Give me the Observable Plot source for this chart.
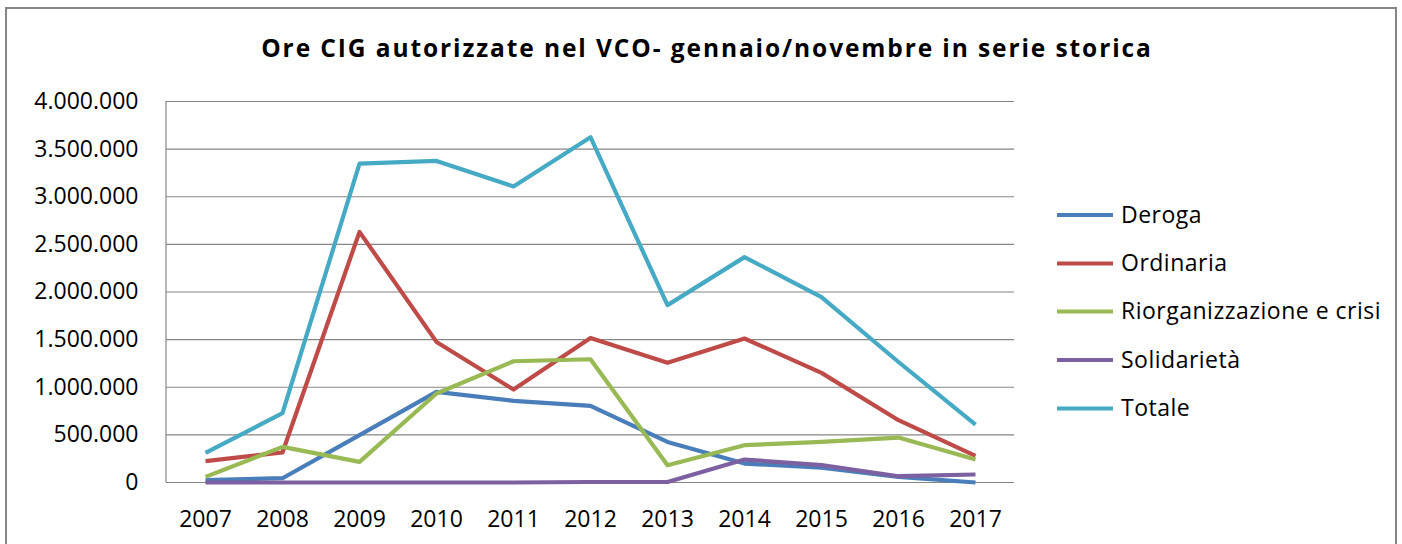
<!DOCTYPE html>
<html>
<head>
<meta charset="utf-8">
<script src="https://cdn.jsdelivr.net/npm/d3@7"></script>
<script src="https://cdn.jsdelivr.net/npm/@observablehq/plot@0.6"></script>
<style>
  html, body { margin: 0; padding: 0; background: #fff; overflow: hidden; }
  #wrap { position: relative; width: 1402px; height: 544px; overflow: hidden; font-family: "Open Sans", sans-serif; }
  #wrap svg.plotsvg { position: absolute; left: 0; top: 0; background: transparent !important; }
  #border { position: absolute; left: 5px; top: 7px; width: 1388px; height: 600px; border: 2px solid #868686; pointer-events: none; }
  #overlay { position: absolute; left: 0; top: 0; pointer-events: none; }
</style>
</head>
<body>
<div id="wrap"><div id="border"></div></div>
<script>
// ---- data ----
const years = [2007, 2008, 2009, 2010, 2011, 2012, 2013, 2014, 2015, 2016, 2017];
const deroga = [25000, 45000, 497000, 951000, 857000, 804000, 426000, 199000, 157000, 59000, 0];
const ordinaria = [224000, 315000, 2631000, 1476000, 976000, 1518000, 1256000, 1512000, 1151000, 654000, 280000];
const riorganizzazione = [59000, 374000, 216000, 934000, 1273000, 1294000, 182000, 392000, 426000, 472000, 241000];
const solidarieta = [0, 0, 0, 0, 0, 5000, 5000, 241000, 182000, 66000, 84000];
const totale = [310000, 728000, 3347000, 3376000, 3108000, 3625000, 1862000, 2366000, 1947000, 1265000, 607000];
const seriesNames = ["Deroga", "Ordinaria", "Riorganizzazione e crisi", "Solidarietà", "Totale"];
const seriesColors = ["#4A7EBB", "#BE4B48", "#98B954", "#7D60A0", "#46AAC5"];
const yTicks = [0, 500000, 1000000, 1500000, 2000000, 2500000, 3000000, 3500000, 4000000];
const title = "Ore CIG autorizzate nel VCO- gennaio/novembre in serie storica";

const seriesValues = [deroga, ordinaria, riorganizzazione, solidarieta, totale];
const rows = [];
seriesNames.forEach((name, i) => {
  years.forEach((yr, j) => rows.push({series: name, year: yr, value: seriesValues[i][j]}));
});

const itLocale = d3.formatLocale({decimal: ",", thousands: ".", grouping: [3], currency: ["€", ""]});
const fmt = itLocale.format(",d");

const W = 1402, H = 544;
const chart = Plot.plot({
  width: W,
  height: H,
  marginLeft: 166,
  marginRight: 388,
  marginTop: 101,
  marginBottom: 62,
  style: {fontFamily: "'Open Sans', sans-serif", fontSize: "23px", color: "#000", background: "transparent"},
  x: {type: "point", domain: years, padding: 0.5, label: null, tickSize: 0, tickPadding: 28, tickFormat: d => String(d)},
  y: {domain: [0, 4000000], ticks: yTicks, label: null, tickSize: 0, tickPadding: 28, tickFormat: fmt},
  color: {domain: seriesNames, range: seriesColors},
  marks: [
    Plot.gridY(yTicks, {stroke: "#868686", strokeOpacity: 1, strokeWidth: 1.2}),
    Plot.axisY({ticks: yTicks, tickSize: 0, tickPadding: 28, tickFormat: fmt, fill: "#000"}),
    Plot.axisX({tickSize: 0, tickPadding: 28, tickFormat: d => String(d), fill: "#000"}),
    Plot.line(rows, {x: "year", y: "value", z: "series", stroke: "series", strokeWidth: 4.2, strokeLinejoin: "round", strokeLinecap: "butt"})
  ]
});
chart.classList.add("plotsvg");
const wrap = document.getElementById("wrap");
wrap.insertBefore(chart, wrap.firstChild);

// overlay: left axis line, title, legend
const xr = chart.scale("x").range;
const yr = chart.scale("y").range;
const ov = d3.select("#wrap").append("svg").attr("id", "overlay").attr("width", W).attr("height", H);
ov.append("line")
  .attr("x1", Math.min(...xr)).attr("x2", Math.min(...xr))
  .attr("y1", Math.min(...yr)).attr("y2", Math.max(...yr))
  .attr("stroke", "#868686").attr("stroke-width", 1.2);

ov.append("text")
  .attr("x", 707).attr("y", 57)
  .attr("text-anchor", "middle")
  .style("font-family", "'Open Sans', sans-serif")
  .style("font-weight", "bold")
  .style("font-size", "24.5px")
  .style("letter-spacing", "1.9px")
  .attr("fill", "#000")
  .text(title);

const lg = ov.append("g");
const rowY = [215, 263.5, 311.5, 360, 408.5];
seriesNames.forEach((name, i) => {
  const g = lg.append("g").attr("transform", `translate(0,${rowY[i]})`);
  g.append("line").attr("x1", 1057).attr("x2", 1113).attr("y1", 0).attr("y2", 0)
    .attr("stroke", seriesColors[i]).attr("stroke-width", 4.2);
  g.append("text").attr("x", 1121).attr("y", 7.5)
    .style("font-family", "'Open Sans', sans-serif").style("font-size", "23px")
    .style("letter-spacing", "0.5px")
    .attr("fill", "#000").text(name);
});
</script>
</body>
</html>
